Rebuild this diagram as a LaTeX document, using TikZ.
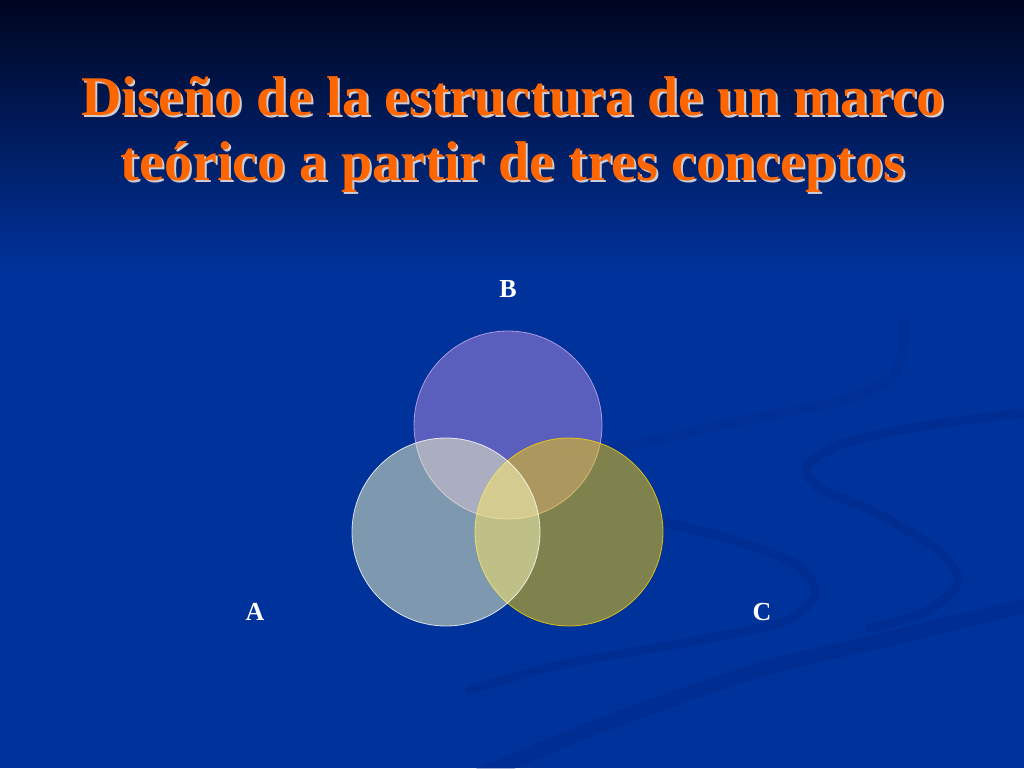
\documentclass[tikz,border=0pt]{standalone}
\usepackage{fontspec}
\setmainfont{Liberation Serif}
\usepackage{tikz}
\usetikzlibrary{positioning}
\definecolor{slideblue}{RGB}{0,50,155}
\definecolor{topnavy}{RGB}{0,6,32}
\definecolor{swooshblue}{RGB}{0,36,128}
\definecolor{titleorange}{RGB}{255,102,0}
\definecolor{titleshade}{RGB}{205,205,215}
\definecolor{fillA}{RGB}{252,255,196}
\definecolor{fillB}{RGB}{180,139,224}
\definecolor{fillC}{RGB}{255,211,0}
\tikzset{
  titletext/.style={align=center,font=\bfseries\fontsize{56}{65}\selectfont,
                    text=titleorange},
  titleback/.style={titletext,text=titleshade},
  concept/.style={circle,minimum size=188pt,inner sep=0pt,
                  fill opacity=0.5,draw opacity=0.8,line width=0.8pt},
  letter/.style={font=\bfseries\fontsize{26}{28}\selectfont,text=white},
  swoosh/.style={draw=swooshblue,line width=9pt,opacity=0.3,line cap=round},
}

\begin{document}
\begin{tikzpicture}[x=1pt,y=-1pt,node distance=29pt]
  \useasboundingbox (0,0) rectangle (1024,768);
  \fill[slideblue] (0,0) rectangle (1024,768);
  \shade[top color=topnavy,bottom color=slideblue] (0,0) rectangle (1024,270);

  % background swooshes
  \draw[swoosh,opacity=0.2] plot[smooth] coordinates {(560,452) (640,443) (740,421) (850,398) (896,372) (905,322)};
  \draw[swoosh] plot[smooth] coordinates {(1024,413) (930,425) (848,442) (808,465) (818,487) (870,510) (935,548) (958,582) (925,612) (870,628)};
  \draw[swoosh] plot[smooth] coordinates {(667,523) (740,542) (798,566) (815,595) (785,621) (700,640) (560,665) (470,690)};
  \draw[swoosh,line width=15pt] plot[smooth] coordinates {(1024,606) (900,636) (760,670) (620,718) (540,750) (480,775)};

  % title
  \node[titleback] (titleshadow) at (515,136) {Diseño de la estructura de un marco\\teórico a partir de tres conceptos};
  \node[titletext] (title) at (513,134) {Diseño de la estructura de un marco\\teórico a partir de tres conceptos};

  % three concepts
  \node[concept,fill=fillB,draw=fillB!70!white] (cB) at (508,425) {};
  \node[concept,fill=fillC,draw=fillC] (cC) at (569,532) {};
  \node[concept,fill=fillA,draw=white] (cA) at (446,532) {};

  \node[letter] (lB) [above=of cB] {B};
  \node[letter] (lA) at (255,612) {A};
  \node[letter] (lC) at (762,612) {C};
\end{tikzpicture}
\end{document}
